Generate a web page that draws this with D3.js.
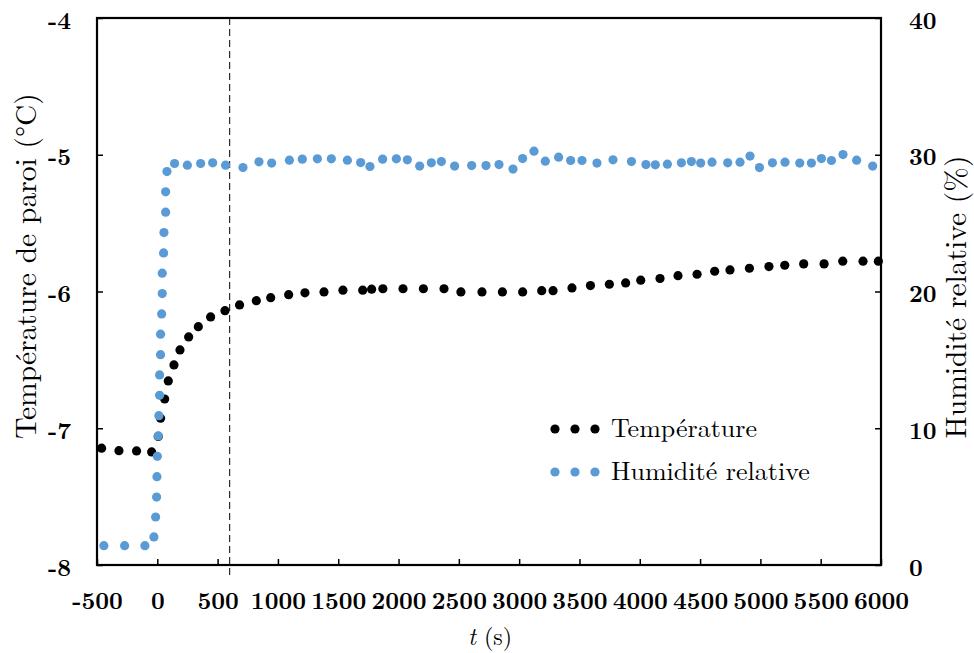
<!DOCTYPE html>
<html>
<head>
<meta charset="utf-8">
<script src="https://cdn.jsdelivr.net/npm/d3@7"></script>
<style>
body{margin:0;background:#fff;}
</style>
</head>
<body>
<svg id="chart" width="974" height="653"></svg>
<script>
// Data
const tempTime = [-462,-318,-172,-47,8,27,61,91,138,188,260,340,442,561,682,821,940,1089,1224,1382,1539,1703,1777,1870,2037,2206,2377,2517,2692,2861,3029,3187,3281,3438,3591,3748,3883,4008,4168,4317,4475,4621,4748,4909,5071,5202,5359,5528,5683,5851,5978];
const tempValues = [-7.146,-7.164,-7.166,-7.173,-7.06,-6.927,-6.786,-6.654,-6.537,-6.427,-6.332,-6.257,-6.186,-6.14,-6.098,-6.067,-6.045,-6.023,-6.01,-6.003,-5.99,-5.99,-5.983,-5.98,-5.98,-5.98,-5.98,-6.003,-6.003,-6.003,-6.003,-5.994,-5.994,-5.974,-5.957,-5.947,-5.937,-5.917,-5.905,-5.884,-5.874,-5.852,-5.842,-5.83,-5.818,-5.808,-5.798,-5.798,-5.778,-5.778,-5.778];
const rhTime = [-443,-271,-103,-28,-14,-6,-3,0,8,13,19,19,27,27,36,41,41,52,55,69,69,80,143,249,359,459,566,710,843,948,1095,1202,1327,1443,1576,1686,1763,1868,1982,2073,2175,2272,2355,2465,2606,2725,2833,2949,3029,3123,3217,3327,3427,3521,3645,3778,3931,4051,4129,4229,4345,4428,4505,4599,4729,4831,4914,4992,5100,5204,5326,5423,5506,5589,5685,5798,5931];
const rhValues = [1.41,1.41,1.41,2.05,3.51,4.97,6.46,7.95,9.44,10.92,12.41,13.9,15.38,16.88,18.36,19.85,21.34,22.82,24.31,25.8,27.29,28.77,29.36,29.24,29.36,29.41,29.24,29.06,29.48,29.39,29.6,29.68,29.7,29.7,29.6,29.43,29.14,29.68,29.7,29.63,29.17,29.41,29.5,29.17,29.21,29.21,29.28,28.95,29.72,30.26,29.53,29.82,29.58,29.58,29.39,29.63,29.5,29.28,29.26,29.31,29.41,29.5,29.39,29.46,29.41,29.46,29.9,29.06,29.41,29.46,29.39,29.39,29.72,29.58,30.01,29.6,29.17];
const xTicks = [-500,0,500,1000,1500,2000,2500,3000,3500,4000,4500,5000,5500,6000];
const yLeftTicks = [-8,-7,-6,-5,-4];
const yRightTicks = [0,10,20,30,40];
const markerTime = 600;
const seriesNames = ["Température","Humidité relative"];
const seriesColors = ["#000000","#5B9BD5"];

const FONT = '"Latin Modern Roman","CMU Serif","Liberation Serif",serif';
const svg = d3.select("#chart");
const m = {left:97, right:881, top:18, bottom:565};
const x = d3.scaleLinear().domain([-500,6000]).range([m.left,m.right]);
const yL = d3.scaleLinear().domain([-8,-4]).range([m.bottom,m.top]);
const yR = d3.scaleLinear().domain([0,40]).range([m.bottom,m.top]);

// axes
const fmt = d => String(d);
const gx = svg.append("g").attr("transform",`translate(0,${m.bottom})`)
  .call(d3.axisBottom(x).tickValues(xTicks).tickSize(-6).tickPadding(27).tickFormat(fmt));
const gl = svg.append("g").attr("transform",`translate(${m.left},0)`)
  .call(d3.axisLeft(yL).tickValues(yLeftTicks).tickSize(-6).tickPadding(26).tickFormat(fmt));
const gr = svg.append("g").attr("transform",`translate(${m.right},0)`)
  .call(d3.axisRight(yR).tickValues(yRightTicks).tickSize(-6).tickPadding(28).tickFormat(fmt));
[gx,gl,gr].forEach(g=>{
  g.selectAll(".domain").remove();
  g.selectAll(".tick line").attr("stroke","#000").attr("stroke-width",1.5);
  g.selectAll(".tick text").style("font-family",FONT).style("font-size","24px").style("font-weight","bold").attr("fill","#000");
});
gl.selectAll(".tick text").attr("dy","0.42em");
gr.selectAll(".tick text").attr("dy","0.42em");

// frame
svg.append("rect").attr("x",m.left).attr("y",m.top).attr("width",m.right-m.left).attr("height",m.bottom-m.top)
  .attr("fill","none").attr("stroke","#000").attr("stroke-width",2.2);

// dashed marker
svg.append("line").attr("x1",x(markerTime)).attr("x2",x(markerTime)).attr("y1",m.top).attr("y2",m.bottom+11)
  .attr("stroke","#000").attr("stroke-width",1).attr("stroke-dasharray","7,4");

// points
const r = 4.6;
svg.append("g").selectAll("circle").data(tempTime.map((t,i)=>[t,tempValues[i]])).join("circle")
  .attr("cx",d=>x(d[0])).attr("cy",d=>yL(d[1])).attr("r",r).attr("fill",seriesColors[0]);
svg.append("g").selectAll("circle").data(rhTime.map((t,i)=>[t,rhValues[i]])).join("circle")
  .attr("cx",d=>x(d[0])).attr("cy",d=>yR(d[1])).attr("r",r).attr("fill",seriesColors[1]);

// legend
const lg = svg.append("g");
[429,472].forEach((ly,i)=>{
  [555,575,595].forEach(lx=>lg.append("circle").attr("cx",lx).attr("cy",ly).attr("r",r).attr("fill",seriesColors[i]));
  lg.append("text").attr("x",611).attr("y",ly).attr("dy","0.3em").style("font-family",FONT).style("font-size","26px").text(seriesNames[i]);
});

// axis titles
svg.append("text").attr("transform",`translate(26,266) rotate(-90)`)
  .attr("text-anchor","middle").attr("dy","0.35em").style("font-family",FONT).style("font-size","29.5px").text("Température de paroi (°C)");
svg.append("text").attr("transform",`translate(956,297) rotate(-90)`)
  .attr("text-anchor","middle").attr("dy","0.35em").style("font-family",FONT).style("font-size","29.5px").text("Humidité relative (%)");
const xt = svg.append("text").attr("x",490).attr("y",637).attr("text-anchor","middle").attr("dy","0.35em").style("font-family",FONT).style("font-size","24px");
xt.append("tspan").attr("font-style","italic").text("t");
xt.append("tspan").text(" (s)");
</script>
</body>
</html>
